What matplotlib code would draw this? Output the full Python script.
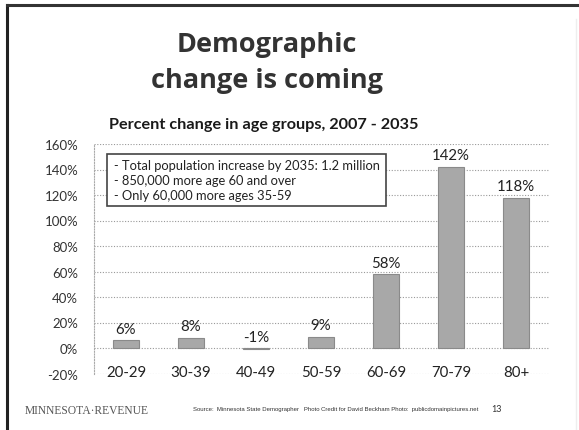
import numpy as np
import matplotlib.pyplot as plt

# Datos: cambio porcentual por grupo de edad, 2007-2035
grupos = ['20-29', '30-39', '40-49', '50-59', '60-69', '70-79', '80+']
cambio = [6, 8, -1, 9, 58, 142, 118]
etiquetas = ['6%', '8%', '-1%', '9%', '58%', '142%', '118%']
marcas_y = [-20, 0, 20, 40, 60, 80, 100, 120, 140, 160]
notas = ['- Total population increase by 2035: 1.2 million',
         '- 850,000 more age 60 and over',
         '- Only 60,000 more ages 35-59']

W, H = 579, 431
fig = plt.figure(figsize=(W / 100, H / 100), dpi=100)
fig.patch.set_facecolor('white')

# Marco de la diapositiva
fig.add_artist(plt.Line2D([7 / W, 7 / W], [0, 1 - 6 / H], color='#222222', lw=2.2))
fig.add_artist(plt.Line2D([7 / W, 1], [1 - 6 / H, 1 - 6 / H], color='#333333', lw=2.2))
fig.add_artist(plt.Line2D([576 / W, 576 / W], [0, 1 - 20 / H], color='#eeeeee', lw=1))

# Títulos
fig.text(0.461, 1 - 45 / H, 'Demographic', ha='center', va='center',
         fontsize=19.5, fontweight='bold', family='Open Sans', color='#333333')
fig.text(0.461, 1 - 81 / H, 'change is coming', ha='center', va='center',
         fontsize=19.5, fontweight='bold', family='Open Sans', color='#333333')
fig.text(0.455, 1 - 125 / H, 'Percent change in age groups, 2007 - 2035', ha='center',
         va='center', fontsize=11.7, fontweight='bold', family='Lato', color='#1a1a1a')

ax = fig.add_axes([93.5 / W, 1 - 374.5 / H, 455 / W, 229.5 / H])
x = np.arange(len(grupos))
ax.bar(x, cambio, width=0.39, color='#a8a8a8', edgecolor='#8a8a8a', linewidth=0.8,
       zorder=3)

for xi, v, t in zip(x, cambio, etiquetas):
    ax.text(xi, max(v, 0) + 3.5, t, ha='center', va='bottom', fontsize=10.8,
            family='Lato', color='#222222')

# Etiquetas de categoría sobre la línea inferior
for xi, g in zip(x, grupos):
    ax.text(xi, -18.5, g, ha='center', va='center', fontsize=10.8, family='Lato',
            color='#222222', zorder=4)

ax.set_xlim(-0.5, len(grupos) - 0.5)
ax.set_ylim(-20, 160)
ax.set_yticks(marcas_y)
ax.set_yticklabels([f'{m}%' for m in marcas_y], family='Lato', fontsize=9.5,
                   color='#333333')
ax.set_xticks([])
ax.tick_params(axis='y', length=0, pad=11)
ax.grid(axis='y', linestyle=(0, (1, 1.5)), color='#999999', linewidth=0.8, zorder=0)
for lado in ['top', 'right', 'bottom']:
    ax.spines[lado].set_visible(False)
ax.spines['left'].set_linestyle((0, (1, 1.5)))
ax.spines['left'].set_color('#aaaaaa')
ax.spines['left'].set_linewidth(0.8)

# Recuadro de notas
caja = plt.Rectangle((107 / W, 1 - 207 / H), 279 / W, 52 / H, transform=fig.transFigure,
                     facecolor='white', edgecolor='#444444', linewidth=1.2, zorder=5)
fig.add_artist(caja)
for i, n in enumerate(notas):
    fig.text(114 / W, 1 - (166 + 15 * i) / H, n, ha='left', va='center', fontsize=9.3,
             family='Lato', color='#222222', zorder=6)

# Pie
fig.text(25 / W, 1 - 411 / H, 'MINNESOTA·REVENUE', ha='left', va='center', fontsize=8.3,
         family='Liberation Serif', color='#555555')
fig.text(193 / W, 1 - 410 / H,
         'Source:  Minnesota State Demographer   Photo Credit for David Beckham Photo:  publicdomainpictures.net',
         ha='left', va='center', fontsize=4.3, family='Liberation Sans', color='#333333')
fig.text(491 / W, 1 - 410 / H, '13', ha='left', va='center', fontsize=6.5,
         family='Lato', color='#333333')

fig.savefig('out.png', dpi=100)
